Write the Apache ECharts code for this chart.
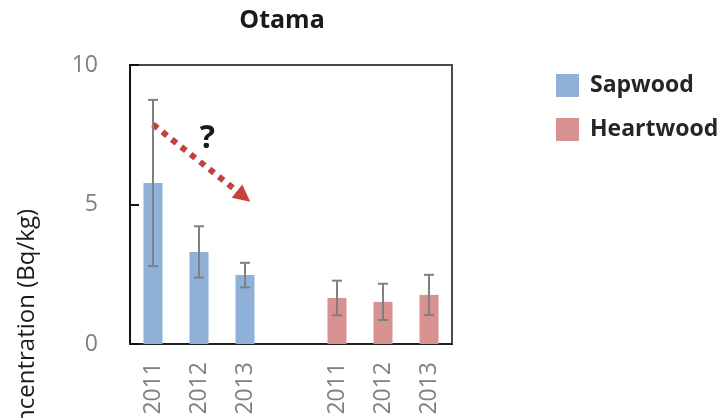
<!DOCTYPE html>
<html>
<head>
<meta charset="utf-8">
<script src="https://cdn.jsdelivr.net/npm/echarts@6/dist/echarts.min.js"></script>
<style>
  html, body { margin: 0; padding: 0; background: #fff; }
  #chart { width: 720px; height: 418px; }
</style>
</head>
<body>
<div id="chart"></div>
<script>
// Sampling years per tissue
const years = ['2011', '2012', '2013'];
// Mean concentration (Bq/kg) and standard deviation
const sapwoodMean = [5.77, 3.30, 2.47];
const sapwoodSd = [2.98, 0.92, 0.44];
const heartwoodMean = [1.65, 1.51, 1.76];
const heartwoodSd = [0.62, 0.65, 0.72];
// Y axis ticks
const yTicks = [0, 5, 10];
// Trend annotation (category position, value)
const trendStart = [0, 7.87];
const trendEnd = [1.97, 5.29];
const questionPos = [1.18, 7.34];

// One empty slot separates the two groups
const categories = years.concat([''], years);
const gap = ['-'];
const pad = years.map(() => '-');
const sapData = sapwoodMean.concat(gap, pad);
const heartData = pad.concat(gap, heartwoodMean);
const errData = [];
sapwoodMean.forEach((m, i) => errData.push([i, m - sapwoodSd[i], m + sapwoodSd[i]]));
heartwoodMean.forEach((m, i) => errData.push([i + years.length + 1, m - heartwoodSd[i], m + heartwoodSd[i]]));

const chart = echarts.init(document.getElementById('chart'));
const gray = '#7f7f7f';
const font = '"Open Sans", "Noto Sans", sans-serif';

chart.setOption({
  animation: false,
  textStyle: { fontFamily: font },
  title: {
    text: 'Otama',
    left: 277,
    top: 3,
    textAlign: 'center',
    textStyle: { fontSize: 25, fontWeight: 'bold', color: '#1a1a1a', fontFamily: font }
  },
  legend: {
    orient: 'vertical',
    left: 551,
    top: 69,
    itemWidth: 23,
    itemHeight: 23,
    itemGap: 21,
    icon: 'rect',
    data: ['Sapwood', 'Heartwood'],
    textStyle: { fontSize: 23, fontWeight: 'bold', color: '#262626', fontFamily: font, padding: [0, 0, 0, 6] }
  },
  grid: {
    left: 130, right: 268, top: 65, bottom: 74,
    show: true, borderColor: '#4a4a4a', borderWidth: 2
  },
  xAxis: [{
    type: 'category',
    data: categories,
    axisLine: { lineStyle: { color: '#222', width: 2 } },
    axisTick: { show: false },
    axisLabel: { rotate: 90, color: gray, fontSize: 23, margin: 18, interval: 0, fontFamily: font }
  }, {
    type: 'value', min: -0.5, max: 6.5, show: false
  }],
  yAxis: {
    type: 'value',
    min: yTicks[0], max: yTicks[yTicks.length - 1], interval: 5,
    splitLine: { show: false },
    axisLine: { show: true, onZero: false, lineStyle: { color: '#111', width: 2 } },
    axisTick: { show: true, inside: true, length: 9, lineStyle: { color: '#111', width: 2 } },
    axisLabel: { color: gray, fontSize: 23, margin: 32, fontFamily: font }
  },
  graphic: [{
    type: 'text',
    x: 27, y: 209,
    rotation: Math.PI / 2,
    style: {
      text: 'Concentration (Bq/kg)',
      fill: '#1a1a1a',
      font: '24px ' + font,
      textAlign: 'right',
      textVerticalAlign: 'middle'
    }
  }],
  series: [{
    name: 'Sapwood', type: 'bar', data: sapData, barWidth: 19, barGap: '-100%',
    itemStyle: { color: '#8fb0d8' }
  }, {
    name: 'Heartwood', type: 'bar', data: heartData, barWidth: 19,
    itemStyle: { color: '#d99292' }
  }, {
    type: 'custom',
    data: errData,
    z: 5,
    renderItem: function (params, api) {
      const x = api.value(0);
      const lo = api.coord([x, api.value(1)]);
      const hi = api.coord([x, api.value(2)]);
      const cap = 5;
      const st = { stroke: '#808080', lineWidth: 2 };
      return {
        type: 'group',
        children: [
          { type: 'line', shape: { x1: lo[0], y1: lo[1], x2: hi[0], y2: hi[1] }, style: st },
          { type: 'line', shape: { x1: hi[0] - cap, y1: hi[1], x2: hi[0] + cap, y2: hi[1] }, style: st },
          { type: 'line', shape: { x1: lo[0] - cap, y1: lo[1], x2: lo[0] + cap, y2: lo[1] }, style: st }
        ]
      };
    }
  }, {
    type: 'line',
    xAxisIndex: 1,
    data: [],
    silent: true,
    z: 6,
    markLine: {
      silent: true,
      symbol: ['none', 'triangle'],
      symbolSize: [17, 17],
      label: { show: false },
      lineStyle: { color: '#c4413c', width: 6, type: [6, 6], cap: 'butt' },
      itemStyle: { color: '#c4413c' },
      emphasis: { disabled: true },
      data: [[{ coord: trendStart }, { coord: trendEnd }]]
    },
    markPoint: {
      silent: true,
      symbol: 'circle',
      symbolSize: 0,
      label: {
        show: true, position: 'inside', formatter: '?',
        fontSize: 32, fontWeight: 'bold', color: '#1a1a1a', fontFamily: font
      },
      data: [{ coord: questionPos }]
    }
  }]
});
</script>
</body>
</html>
